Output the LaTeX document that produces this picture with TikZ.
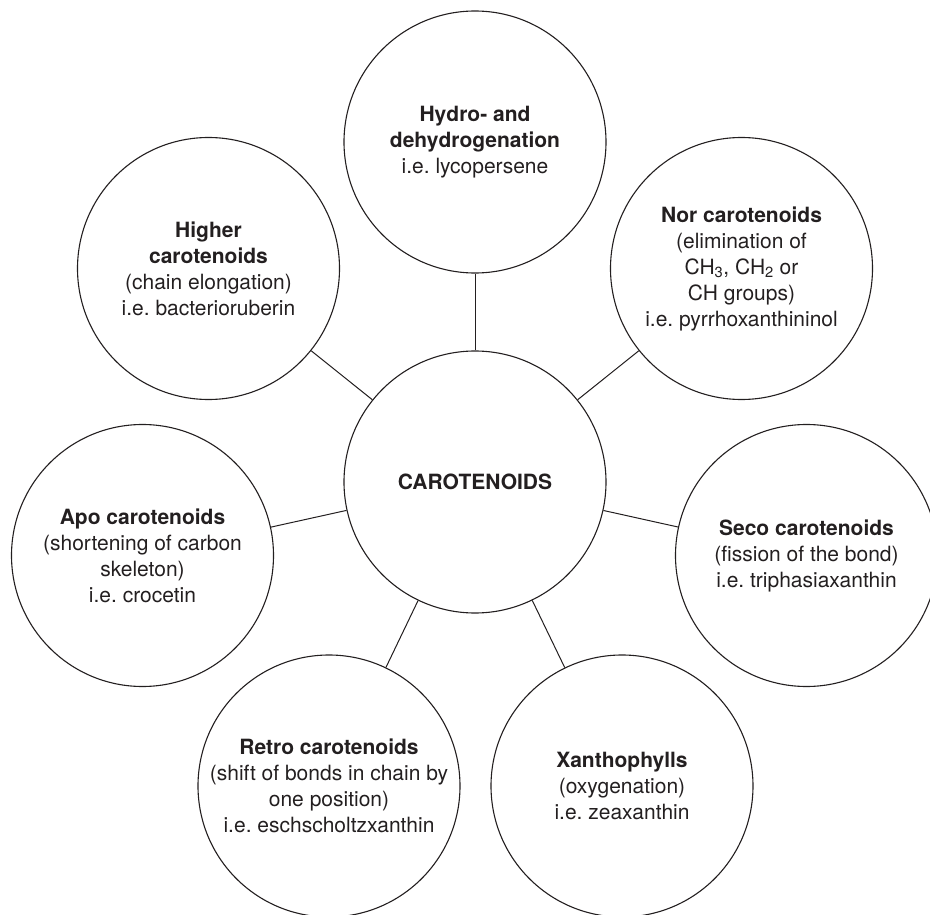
\documentclass[tikz,border=0pt]{standalone}
\usepackage{fontspec}
\setmainfont{TeX Gyre Heros}
\definecolor{ink}{RGB}{35,31,32}
\frenchspacing
\begin{document}
\begin{tikzpicture}[x=1pt,y=1pt,
  bubble/.style={circle,draw=ink,line width=1.1pt,minimum size=262pt,inner sep=0pt,
    align=center,text=ink,font=\fontsize{21}{26}\selectfont\frenchspacing},
  link/.style={draw=ink,line width=1pt}]
\useasboundingbox (0,0) rectangle (930,-915);
\node[bubble] (c) at (475,-482) {\textbf{CAROTENOIDS}};
\node[bubble] (hydro) at (475,-142) {\textbf{Hydro- and}\\\textbf{dehydrogenation}\\i.e. lycopersene};
\node[bubble] (higher) at (208.5,-268.5) {\textbf{Higher}\\\textbf{carotenoids}\\(chain elongation)\\i.e. bacterioruberin};
\node[bubble] (nor) at (741.5,-268.5) {\textbf{Nor carotenoids}\\(elimination of\\CH\textsubscript{3}, CH\textsubscript{2} or\\CH groups)\\i.e. pyrrhoxanthininol};
\node[bubble] (apo) at (142.5,-555.5) {\textbf{Apo carotenoids}\\(shortening of carbon\\skeleton)\\i.e. crocetin};
\node[bubble] (seco) at (806.5,-555.5) {\textbf{Seco carotenoids}\\(fission of the bond)\\i.e. triphasiaxanthin};
\node[bubble] (retro) at (329,-786) {\textbf{Retro carotenoids}\\(shift of bonds in chain by\\one position)\\i.e. eschscholtzxanthin};
\node[bubble] (xan) at (622,-786) {\textbf{Xanthophylls}\\(oxygenation)\\i.e. zeaxanthin};
\foreach \n in {hydro,higher,nor,apo,seco,retro,xan}
  \draw[link] (c) -- (\n);
\end{tikzpicture}
\end{document}
